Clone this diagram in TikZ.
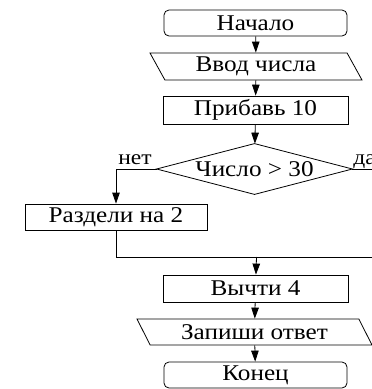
\documentclass[tikz,border=0pt]{standalone}
\usepackage{fontspec}
\setmainfont{Liberation Serif}
\newfontfamily\tnr[FakeStretch=1.12]{Liberation Serif}
\usetikzlibrary{shapes.geometric,arrows.meta}
\begin{document}
\begin{tikzpicture}[x=1pt,y=-1pt,
  every node/.style={font=\tnr\fontsize{22.5}{26}\selectfont, inner sep=0pt, line width=0.8pt},
  term/.style={draw, rounded corners=5pt, minimum width=183pt, minimum height=26pt},
  proc/.style={draw, minimum width=185pt, minimum height=27pt},
  iobox/.style={draw, trapezium, trapezium stretches body, minimum height=27pt},
  decis/.style={minimum width=195pt, minimum height=50pt},
  lbl/.style={font=\tnr\fontsize{21}{24}\selectfont},
  conn/.style={line width=0.8pt},
  arr/.style={conn, -{Triangle[length=11pt,width=7.5pt]}}
]
\clip (0,0) rectangle (372,389);
\useasboundingbox (0,0) rectangle (372,389);
\node[term] (start) at (255.5,23) {Начало};
\node[iobox, trapezium left angle=128, trapezium right angle=52, minimum width=212pt] (inp) at (256,66.5) {Ввод числа};
\node[proc, minimum height=28pt] (add) at (255.5,110) {Прибавь 10};
\node[decis] (dec) at (254.5,169) {Число > 30};
\draw[conn] (dec.north) -- (dec.east) -- (dec.south) -- (dec.west) -- cycle;
\node[proc, minimum width=182pt, minimum height=26pt] (div) at (116,217) {Раздели на 2};
\node[proc] (sub) at (255.5,288.5) {Вычти 4};
\node[iobox, trapezium left angle=131, trapezium right angle=49, minimum width=235pt, minimum height=26pt] (outp) at (254.5,332) {Запиши ответ};
\node[term] (fin) at (255.5,375) {Конец};
\node[lbl, anchor=base] (no) at (135,164) {нет};
\node[lbl, anchor=base west] (yes) at (353,164) {да};
\coordinate (j) at (256.5,257);
\draw[arr] (start) -- (inp);
\draw[arr] (inp) -- (add);
\draw[arr] (add) -- (dec);
\draw[arr] (dec.west) -| (div.north);
\draw[conn] (div.south) |- (j);
\draw[conn] (dec.east) -- ++(40,0) |- (j);
\draw[arr] (j) -- (sub);
\draw[arr] (sub) -- (outp);
\draw[arr] (outp) -- (fin);
\end{tikzpicture}
\end{document}
